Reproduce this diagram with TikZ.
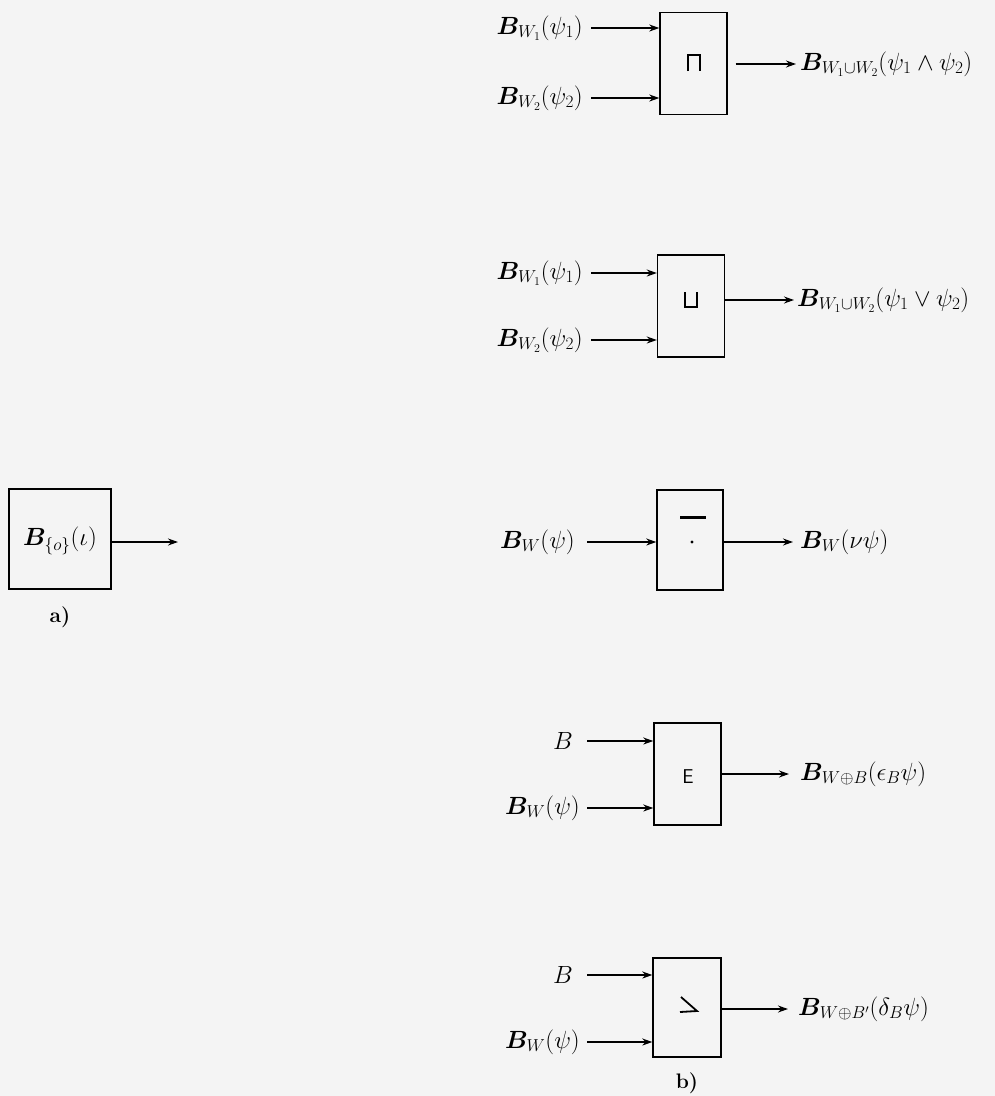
\documentclass[tikz,border=0pt]{standalone}
\usepackage{amsmath,amssymb,bm}
\usetikzlibrary{arrows.meta}
\begin{document}
\begin{tikzpicture}[x=1pt,y=-1pt,
  lbl/.style={inner sep=0pt,font=\fontsize{24}{28}\selectfont},
  opbox/.style={draw,line width=1.4pt,minimum width=67pt,minimum height=102pt,inner sep=0pt},
  arr/.style={line width=1.3pt,-{Stealth[length=10pt,width=7pt]}},
  symline/.style={line width=1.8pt,line join=miter},
  captext/.style={inner sep=0pt,font=\fontsize{21}{24}\selectfont\bfseries}]
\fill[gray!9] (0,0) rectangle (995,1096);
\useasboundingbox (0,0) rectangle (995,1096);

% a)
\node[opbox,minimum width=102pt,minimum height=100pt] (ba) at (60,539) {};
\node[lbl,anchor=center] (la) at (60,541) {$\bm{B}_{\{o\}}(\iota)$};
\coordinate (ea) at (178,542);
\draw[arr] (ba.east |- ea) -- (ea);
\node[captext] (capa) at (60,617) {a)};

% box 1: sqcap
\node[opbox] (b1) at (693.5,63.5) {};
\draw[symline] (688,71) -- (688,55) -- (700,55) -- (700,71);
\node[lbl,anchor=east] (i11) at (583,28) {$\bm{B}_{W_1}(\psi_1)$};
\node[lbl,anchor=east] (i12) at (583,98) {$\bm{B}_{W_2}(\psi_2)$};
\draw[arr] ([xshift=8pt]i11.east) -- (i11.east -| b1.west);
\draw[arr] ([xshift=8pt]i12.east) -- (i12.east -| b1.west);
\node[lbl,anchor=west] (o1) at (800,64) {$\bm{B}_{W_1\cup W_2}(\psi_1\wedge\psi_2)$};
\draw[arr,shorten <=8pt,shorten >=4pt] (b1.east |- o1.west) -- (o1.west);

% box 2: sqcup
\node[opbox] (b2) at (691,306) {};
\draw[symline] (685,292) -- (685,307) -- (697,307) -- (697,292);
\node[lbl,anchor=east] (i21) at (583,273) {$\bm{B}_{W_1}(\psi_1)$};
\node[lbl,anchor=east] (i22) at (583,340) {$\bm{B}_{W_2}(\psi_2)$};
\draw[arr] ([xshift=8pt]i21.east) -- (i21.east -| b2.west);
\draw[arr] ([xshift=8pt]i22.east) -- (i22.east -| b2.west);
\node[lbl,anchor=west] (o2) at (797,300) {$\bm{B}_{W_1\cup W_2}(\psi_1\vee\psi_2)$};
\draw[arr,shorten >=3pt] (b2.east |- o2.west) -- (o2.west);

% box 3: negation
\node[opbox,minimum width=66pt,minimum height=100pt] (b3) at (690,540) {};
\draw[line width=3pt] (680,517) -- (706,517);
\fill (692,542) circle (1.6pt);
\node[lbl,anchor=east] (i31) at (575,542) {$\bm{B}_{W}(\psi)$};
\draw[arr] ([xshift=12pt]i31.east) -- (i31.east -| b3.west);
\node[lbl,anchor=west] (o3) at (800,542) {$\bm{B}_{W}(\nu\psi)$};
\draw[arr,shorten >=7pt] (b3.east |- o3.west) -- (o3.west);

% box 4: E
\node[opbox] (b4) at (687.5,774) {};
\node[inner sep=0pt,font=\fontsize{20}{23}\selectfont\sffamily] (s4) at (688,777) {E};
\node[lbl,anchor=east] (i41) at (573,741) {$B$};
\node[lbl,anchor=east] (i42) at (580,808) {$\bm{B}_{W}(\psi)$};
\draw[arr] (587,741) -- (i41.east -| b4.west);
\draw[arr] ([xshift=7pt]i42.east) -- (i42.east -| b4.west);
\node[lbl,anchor=west] (o4) at (800,774) {$\bm{B}_{W\oplus B}(\epsilon_B\psi)$};
\draw[arr,shorten >=11pt] (b4.east |- o4.west) -- (o4.west);

% box 5: delta
\node[opbox,minimum width=68pt,minimum height=99pt] (b5) at (687,1007.5) {};
\draw[symline] (681,997) -- (697,1011) -- (680,1012);
\node[lbl,anchor=east] (i51) at (573,975) {$B$};
\node[lbl,anchor=east] (i52) at (580,1042) {$\bm{B}_{W}(\psi)$};
\draw[arr] (587,975) -- (i51.east -| b5.west);
\draw[arr] ([xshift=7pt]i52.east) -- (i52.east -| b5.west);
\node[lbl,anchor=west] (o5) at (798,1009) {$\bm{B}_{W\oplus B'}(\delta_B\psi)$};
\draw[arr,shorten >=10pt] (b5.east |- o5.west) -- (o5.west);
\node[captext] (capb) at (687,1083) {b)};
\end{tikzpicture}
\end{document}
